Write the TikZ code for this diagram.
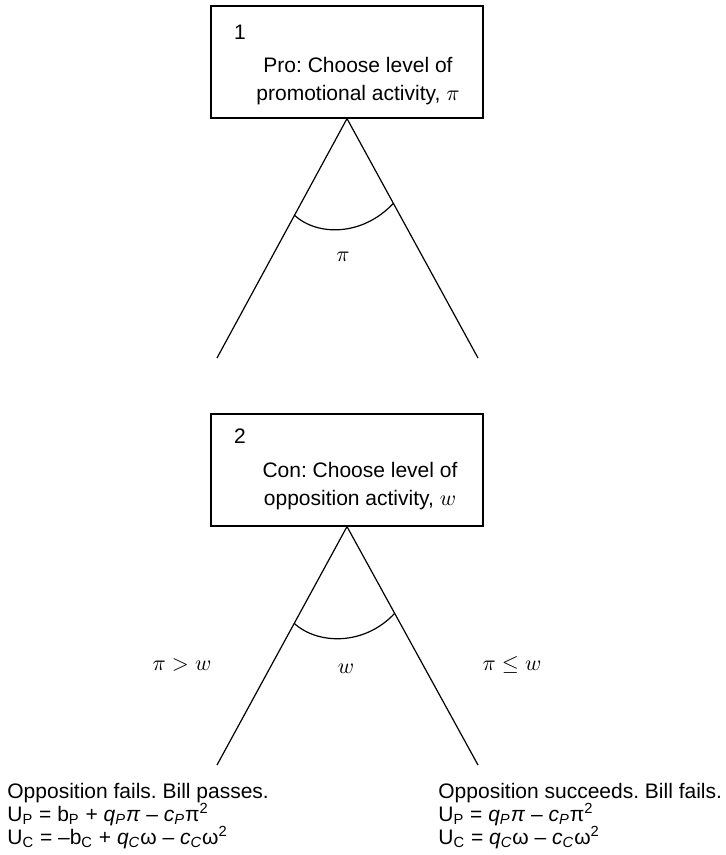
\documentclass[tikz,border=0pt]{standalone}
\usepackage{fontspec}
\setmainfont{Liberation Sans}
\usetikzlibrary{calc}
\frenchspacing
\tikzset{
  gamebox/.style={draw, line width=0.6pt, minimum width=136pt, minimum height=56pt, inner sep=0pt},
  boxtext/.style={align=center, inner sep=0pt},
  branch/.style={line width=0.6pt},
  payoff/.style={align=left, anchor=north west, inner sep=0pt, font=\fontsize{10.5}{11.4}\selectfont}
}
\begin{document}
\begin{tikzpicture}[x=0.5pt, y=-0.5pt, font=\fontsize{10.5}{14}\selectfont]
 \useasboundingbox (0,0) rectangle (725,855);
 % stage 1
 \node[gamebox] (pro) at (347,62) {};
 \node[boxtext] (pronum) at (240,32) {1};
 \node[boxtext] (protext) at (358,81) {Pro: Choose level of\\promotional activity, $\pi$};
 \coordinate (proleft) at (217,358);
 \coordinate (proright) at (478,358);
 \draw[branch] (proleft) -- (pro.south) -- (proright);
 \draw[branch] ($(pro.south)!0.404!(proleft)$) .. controls +(23,21) and +(-31,33) .. ($(pro.south)!0.354!(proright)$);
 \node (prolab) at (343,257) {$\pi$};
 % stage 2
 \node[gamebox] (con) at (347,470) {};
 \node[boxtext] (connum) at (240,436) {2};
 \node[boxtext] (context) at (360,486) {Con: Choose level of\\opposition activity, $w$};
 \coordinate (conleft) at (217,765);
 \coordinate (conright) at (478,765);
 \draw[branch] (conleft) -- (con.south) -- (conright);
 \draw[branch] ($(con.south)!0.406!(conleft)$) .. controls +(23,21) and +(-31,33) .. ($(con.south)!0.364!(conright)$);
 \node (conlab) at (346,669) {$w$};
 \node (winlab) at (182,665) {$\pi > w$};
 \node (loselab) at (512,665) {$\pi \leq w$};
 % outcomes
 \node[payoff] (pass) at (7,783) {Opposition fails. Bill passes.\\
   U\textsubscript{P} = b\textsubscript{P} + \textit{q\textsubscript{P}π} -- \textit{c\textsubscript{P}}π\textsuperscript{2}\\
   U\textsubscript{C} = --b\textsubscript{C} + \textit{q\textsubscript{C}}ω -- \textit{c\textsubscript{C}}ω\textsuperscript{2}};
 \node[payoff] (fail) at (438,783) {Opposition succeeds. Bill fails.\\
   U\textsubscript{P} = \textit{q\textsubscript{P}π} -- \textit{c\textsubscript{P}}π\textsuperscript{2}\\
   U\textsubscript{C} = \textit{q\textsubscript{C}}ω -- \textit{c\textsubscript{C}}ω\textsuperscript{2}};
\end{tikzpicture}
\end{document}
